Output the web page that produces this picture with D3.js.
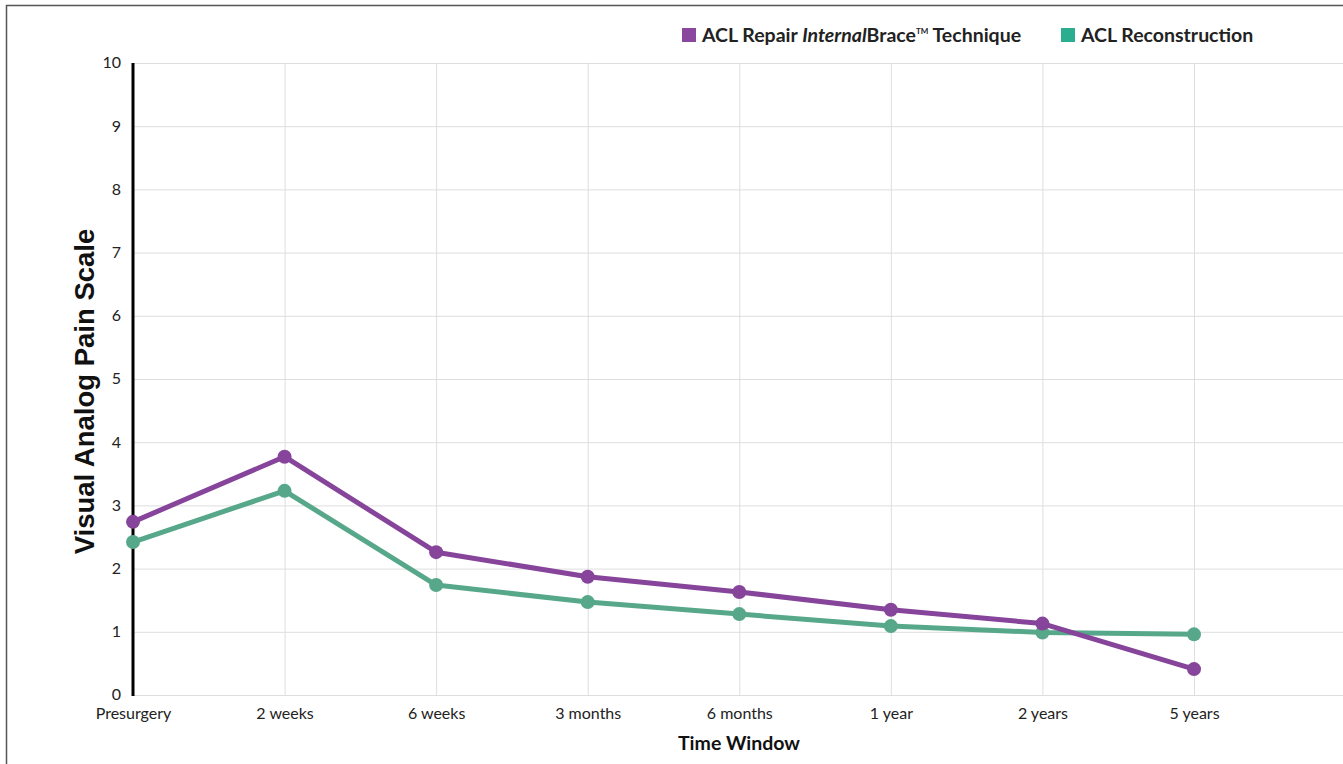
<!DOCTYPE html>
<html><head><meta charset="utf-8">
<script src="https://cdn.jsdelivr.net/npm/d3@7"></script>
<style>
html,body{margin:0;padding:0;background:#fff;}
svg{display:block;}
</style></head>
<body>
<svg id="chart" width="1343" height="764"></svg>
<script>
const categories = ["Presurgery","2 weeks","6 weeks","3 months","6 months","1 year","2 years","5 years"];
const repairValues = [2.74, 3.77, 2.26, 1.87, 1.63, 1.35, 1.13, 0.41];
const reconValues = [2.42, 3.23, 1.74, 1.47, 1.28, 1.09, 0.99, 0.96];
const yTicks = [0,1,2,3,4,5,6,7,8,9,10];
const seriesNames = ["ACL Repair InternalBrace™ Technique","ACL Reconstruction"];

(function(){
const svg = d3.select("#chart");
const pL = 133, pR = 1343, pT = 63, pB = 695;
const x = d3.scalePoint().domain(categories).range([133, 1194]);
const y = d3.scaleLinear().domain([0,10]).range([pB, pT]);

// frame border
svg.append("path").attr("d", `M6.5,764 L6.5,5.5 L1343,5.5`).attr("fill","none").attr("stroke","#555").attr("stroke-width",1.5);

// horizontal grid
const gy = svg.append("g").attr("transform",`translate(${pL},0)`)
  .call(d3.axisLeft(y).tickValues(yTicks).tickSize(-(pR-pL)).tickFormat(""));
gy.select(".domain").remove();
gy.selectAll("line").attr("stroke","#dedede").attr("stroke-width",1);

// vertical grid
const gx = svg.append("g").attr("transform",`translate(0,${pB})`)
  .call(d3.axisBottom(x).tickSize(-(pB-pT)).tickFormat(""));
gx.select(".domain").remove();
gx.selectAll("line").attr("stroke","#dedede").attr("stroke-width",1);

// y tick labels
const yl = svg.append("g").attr("transform",`translate(${pL},0)`)
  .call(d3.axisLeft(y).tickValues(yTicks).tickSize(0).tickPadding(12));
yl.select(".domain").remove();
yl.selectAll("text").attr("font-family","Lato, sans-serif").attr("font-size",16).attr("fill","#222").attr("dy","0.3em");

// x tick labels
const xl = svg.append("g").attr("transform",`translate(0,${pB})`)
  .call(d3.axisBottom(x).tickSize(0).tickPadding(13));
xl.select(".domain").remove();
xl.selectAll("text").attr("font-family","Lato, sans-serif").attr("font-size",16).attr("fill","#222");

// y axis line
svg.append("line").attr("x1",pL).attr("x2",pL).attr("y1",pT).attr("y2",pB+1)
  .attr("stroke","#000").attr("stroke-width",3);

const series = [
  {values: repairValues, color:"#86449a"},
  {values: reconValues, color:"#57a88a"}
];
const line = d3.line().x((d,i)=>x(categories[i])).y(d=>y(d));
[series[1], series[0]].forEach(s=>{
  svg.append("path").datum(s.values).attr("d", line).attr("fill","none")
    .attr("stroke", s.color).attr("stroke-width",5).attr("stroke-linejoin","round");
  svg.selectAll(null).data(s.values).enter().append("circle")
    .attr("cx",(d,i)=>x(categories[i])).attr("cy",d=>y(d)).attr("r",7).attr("fill",s.color);
});

// axis titles
svg.append("text").attr("transform",`translate(87,${(228+555)/2}) rotate(-90)`)
  .attr("text-anchor","middle").attr("dominant-baseline","middle")
  .attr("font-family","Liberation Sans, Arial, sans-serif").attr("font-weight","bold")
  .attr("font-size",27.5).attr("fill","#111").text("Visual Analog Pain Scale");
svg.append("text").attr("x",739).attr("y",750).attr("text-anchor","middle")
  .attr("font-family","Lato, sans-serif").attr("font-weight","bold").attr("font-size",19.5)
  .attr("fill","#111").text("Time Window");

// legend
const lg = svg.append("g").attr("font-family","Lato, sans-serif").attr("font-weight","bold").attr("font-size",19.5).attr("fill","#222");
lg.append("rect").attr("x",682).attr("y",28).attr("width",14).attr("height",14).attr("fill","#8a479e");
const t1 = lg.append("text").attr("x",702).attr("y",42);
t1.append("tspan").text("ACL Repair ");
t1.append("tspan").attr("font-style","italic").text("Internal");
t1.append("tspan").text("Brace");
t1.append("tspan").attr("font-size",8).attr("dy",-8).text("TM");
t1.append("tspan").attr("dy",8).text(" Technique");
lg.append("rect").attr("x",1061).attr("y",28).attr("width",14).attr("height",14).attr("fill","#2aae8f");
lg.append("text").attr("x",1081).attr("y",42).text("ACL Reconstruction");
})();
</script>
</body></html>
